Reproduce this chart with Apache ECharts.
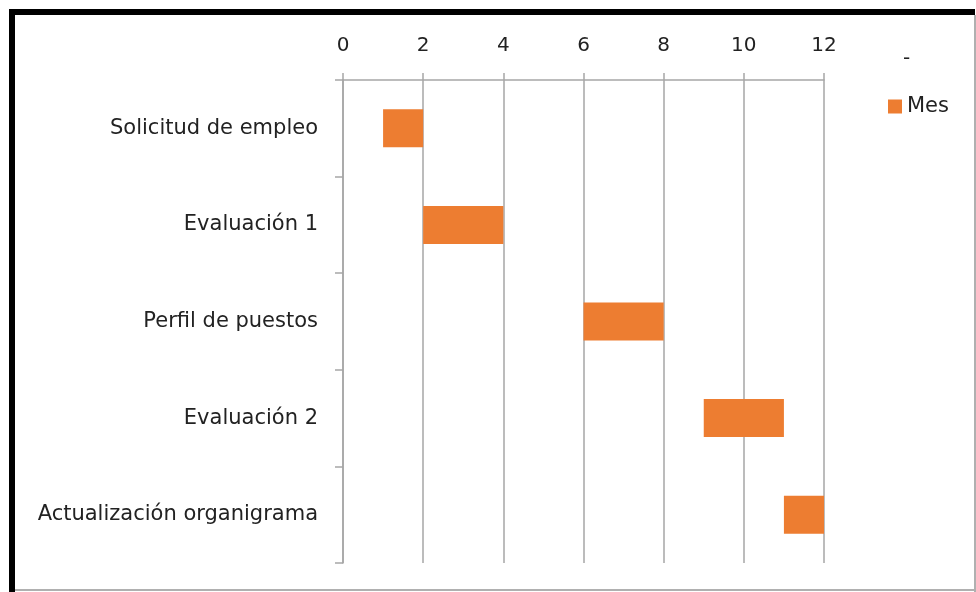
<!DOCTYPE html>
<html>
<head>
<meta charset="utf-8">
<script src="https://cdn.jsdelivr.net/npm/echarts@6/dist/echarts.min.js"></script>
<style>
  html, body { margin: 0; padding: 0; background: #fff; }
  #chart { width: 976px; height: 592px; }
</style>
</head>
<body>
<div id="chart"></div>
<script>
// Activities, top to bottom
const tasks = ['Solicitud de empleo', 'Evaluación 1', 'Perfil de puestos', 'Evaluación 2', 'Actualización organigrama'];
// Month where each activity starts
const startMonth = [1, 2, 6, 9, 11];
// Length of each activity in months
const durationMonths = [1, 2, 2, 2, 1];
const seriesName = 'Mes';
const monthMin = 0;
const monthMax = 12;
const monthStep = 2;

const FONT = 'DejaVu Sans';
const TEXT = '#222';
const GRID_LINE = '#a6a6a6';

const chart = echarts.init(document.getElementById('chart'), null, { renderer: 'canvas' });

chart.setOption({
  backgroundColor: '#fff',
  animation: false,
  textStyle: { fontFamily: FONT },
  grid: { left: 343, right: 152, top: 80, bottom: 29, containLabel: false },
  legend: {
    data: [{ name: seriesName, icon: 'rect' }],
    left: 883,
    top: 91,
    itemWidth: 14,
    itemHeight: 14,
    itemGap: 9,
    textStyle: { fontFamily: FONT, fontSize: 21, color: TEXT }
  },
  xAxis: {
    type: 'value',
    position: 'top',
    min: monthMin,
    max: monthMax,
    interval: monthStep,
    axisLine: { show: true, lineStyle: { color: GRID_LINE, width: 1.5 } },
    axisTick: { show: true, length: 7, lineStyle: { color: GRID_LINE, width: 1.5 } },
    splitLine: { show: true, lineStyle: { color: GRID_LINE, width: 1.5 } },
    axisLabel: { margin: 24, fontSize: 20, color: TEXT, fontFamily: FONT }
  },
  yAxis: {
    type: 'category',
    inverse: true,
    data: tasks,
    axisLine: { show: true, lineStyle: { color: GRID_LINE, width: 1.5 } },
    axisTick: { show: true, length: 8, alignWithLabel: false, lineStyle: { color: GRID_LINE, width: 1.5 } },
    axisLabel: { margin: 25, fontSize: 21, color: TEXT, fontFamily: FONT }
  },
  series: [
    {
      name: 'inicio',
      type: 'bar',
      stack: 'gantt',
      data: startMonth,
      barWidth: 38,
      itemStyle: { color: 'transparent' },
      emphasis: { disabled: true },
      silent: true
    },
    {
      name: seriesName,
      type: 'bar',
      stack: 'gantt',
      data: durationMonths,
      barWidth: 38,
      itemStyle: { color: '#ED7D31' }
    }
  ],
  graphic: [
    // frame: heavy black on top/left, thin grey on right/bottom
    { type: 'rect', shape: { x: 9, y: 9, width: 966, height: 6 }, style: { fill: '#000' }, silent: true },
    { type: 'rect', shape: { x: 9, y: 9, width: 6, height: 583 }, style: { fill: '#000' }, silent: true },
    { type: 'rect', shape: { x: 974, y: 15, width: 2, height: 577 }, style: { fill: '#b0b0b0' }, silent: true },
    { type: 'rect', shape: { x: 15, y: 589, width: 961, height: 2 }, style: { fill: '#b0b0b0' }, silent: true },
    { type: 'text', left: 903, top: 49, style: { text: '-', fontSize: 20, fill: TEXT, fontFamily: FONT }, silent: true }
  ]
});
</script>
</body>
</html>
